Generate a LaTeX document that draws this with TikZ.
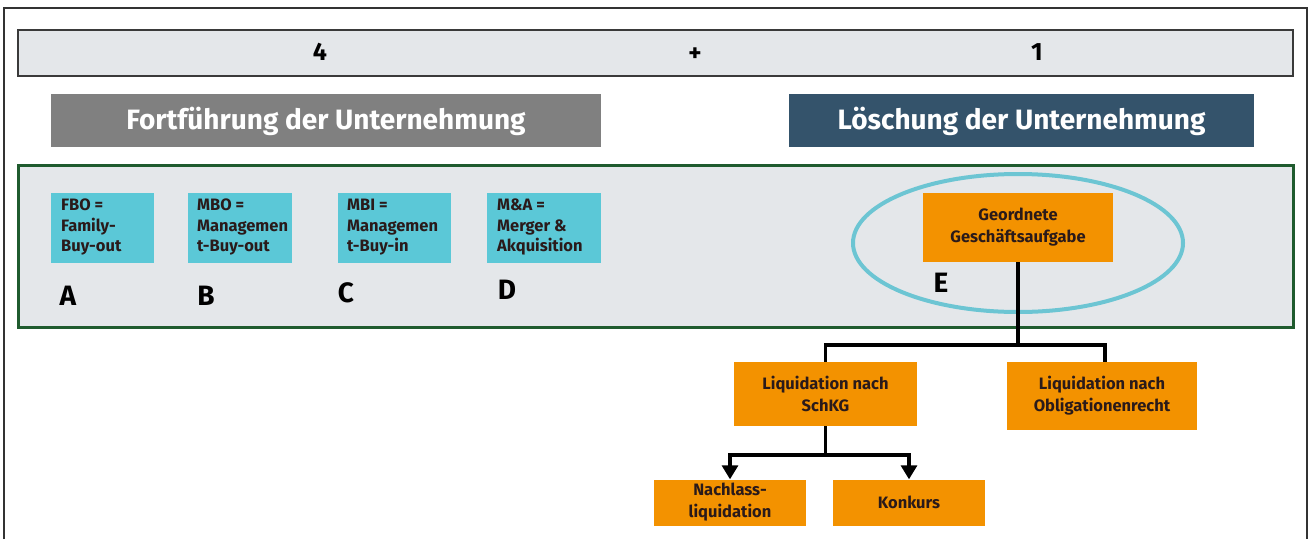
\documentclass[tikz,border=0pt]{standalone}
\usepackage{fontspec}
\setmainfont{Fira Sans}
\usetikzlibrary{arrows.meta}
\definecolor{barbg}{HTML}{E4E7EA}
\definecolor{barline}{HTML}{3A3A3A}
\definecolor{greyhead}{HTML}{808080}
\definecolor{bluehead}{HTML}{34536B}
\definecolor{greenline}{HTML}{1F5B2E}
\definecolor{cyanbox}{HTML}{5BC8D7}
\definecolor{ellcol}{HTML}{6CC5D3}
\definecolor{orangebox}{HTML}{F39200}
\definecolor{darktext}{HTML}{2A1A1A}
\tikzset{
  headbox/.style={inner sep=0pt, text=white, font=\bfseries\fontsize{28}{32}\selectfont},
  cyanfill/.style={fill=cyanbox, draw=none},
  boxtext/.style={anchor=north west, inner sep=0pt, align=left, font=\bfseries\fontsize{16.5}{20.5}\selectfont, text=darktext},
  letter/.style={inner sep=0pt, font=\bfseries\fontsize{28}{30}\selectfont},
  num/.style={inner sep=0pt, font=\bfseries\fontsize{25}{27}\selectfont},
  orange/.style={fill=orangebox, draw=none, inner sep=0pt, align=center, text=darktext, font=\bfseries\fontsize{16.5}{22}\selectfont},
  conn/.style={draw=black, line width=3.2pt},
  arr/.style={conn, -{Triangle[length=14pt,width=16pt]}}
}
\begin{document}
\begin{tikzpicture}[x=1pt,y=-1pt]
\useasboundingbox (0,0) rectangle (1312,539);
\fill[white] (0,0) rectangle (1312,539);
% outer frame
\draw[line width=1.6pt, black!80] (4,539) -- (4,8) -- (1307,8) -- (1307,539);
% top bar
\draw[fill=barbg, draw=barline, line width=2.6pt] (18,30) rectangle (1293,76);
\node[num] (n4) at (320,52) {4};
\node[num] (nplus) at (695,55) {+};
\node[num] (n1) at (1037,52) {1};
% headers
\fill[greyhead] (51,94) rectangle (601,147);
\node[headbox] (fort) at (326,121) {Fortführung der Unternehmung};
\fill[bluehead] (789,94) rectangle (1254,147);
\node[headbox] (losch) at (1021.5,121) {Löschung der Unternehmung};
% green box
\draw[fill=barbg, draw=greenline, line width=3pt] (18,165) rectangle (1293,327);
% cyan boxes
\fill[cyanfill] (51,193) rectangle (154,263);
\node[boxtext] (fbo) at (61,199) {FBO =\\Family-\\Buy-out};
\fill[cyanfill] (188,193) rectangle (292,263);
\node[boxtext] (mbo) at (197,199) {MBO =\\Managemen\\t-Buy-out};
\fill[cyanfill] (338,193) rectangle (451,263);
\node[boxtext] (mbi) at (347,199) {MBI =\\Managemen\\t-Buy-in};
\fill[cyanfill] (487,193) rectangle (601,263);
\node[boxtext] (ma) at (497,199) {M\&A =\\Merger \&\\Akquisition};
\node[letter] (A) at (68,296) {A};
\node[letter] (B) at (206,296) {B};
\node[letter] (C) at (346,293) {C};
\node[letter] (D) at (507,290) {D};
% orange tree
\node[orange, minimum width=190pt, minimum height=69pt] (geo) at (1018,227.5) {Geordnete\\Geschäftsaufgabe};
\draw[ellcol, line width=4pt] (1018,243) ellipse [x radius=165, y radius=69];
\node[letter] (E) at (941,283) {E};
\node[orange, minimum width=183pt, minimum height=64pt] (schkg) at (825.5,394) {Liquidation nach\\SchKG};
\node[orange, minimum width=190pt, minimum height=68pt] (obl) at (1102,396) {Liquidation nach\\Obligationenrecht};
\node[orange, minimum width=152pt, minimum height=46pt] (nach) at (730,502.5) {Nachlass-\\liquidation};
\node[orange, minimum width=152pt, minimum height=46pt] (konk) at (909,502.5) {Konkurs};
\coordinate (j1) at (1018,345);
\coordinate (j2) at (825.5,455);
\draw[conn] (geo.south) -- (j1);
\draw[conn] (j1) -| (schkg.north);
\draw[conn] (j1) -| ([xshift=3pt]obl.north);
\draw[conn] (schkg.south) -- (j2);
\draw[arr] (j2) -| (nach.north);
\draw[arr] (j2) -| (konk.north);
\end{tikzpicture}
\end{document}
